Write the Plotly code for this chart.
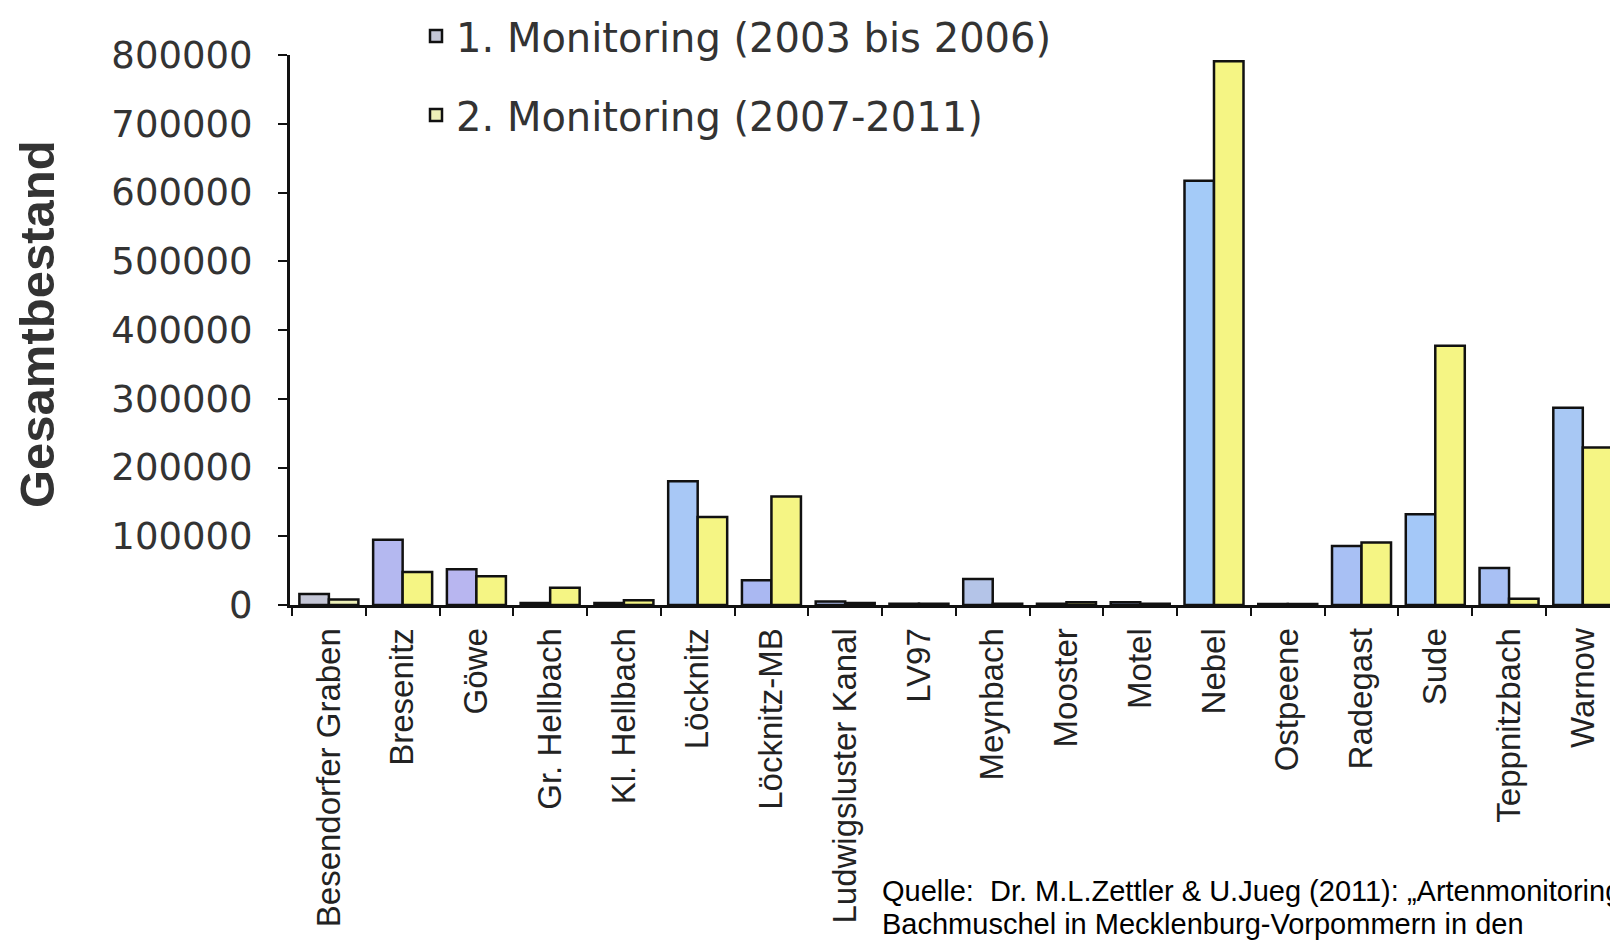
import plotly.graph_objects as go

categories = ["Besendorfer Graben", "Bresenitz", "Göwe", "Gr. Hellbach", "Kl. Hellbach",
              "Löcknitz", "Löcknitz-MB", "Ludwigsluster Kanal", "LV97", "Meynbach",
              "Mooster", "Motel", "Nebel", "Ostpeene", "Radegast", "Sude",
              "Teppnitzbach", "Warnow"]
monitoring1 = [16000, 95000, 52000, 3000, 3000, 180000, 36000, 5000, 2000, 38000,
               2000, 4000, 617000, 1500, 86000, 132000, 54000, 287000]
monitoring2 = [8000, 48000, 42000, 25000, 7000, 128000, 158000, 3000, 2000, 2000,
               4000, 2000, 791000, 1500, 91000, 377000, 9000, 229000]
series_names = ["1. Monitoring (2003 bis 2006)", "2. Monitoring (2007-2011)"]
y_ticks = [0, 100000, 200000, 300000, 400000, 500000, 600000, 700000, 800000]

# styles
colors1 = ["#c4c6d6", "#b4b8f0", "#b8b6f0", "#b0b8ee", "#b0b8ee", "#a8c8f6", "#aab8f2",
           "#b0c0f0", "#b0c0f0", "#b4c4e8", "#b0c0f0", "#b0c0f0", "#a4cbf8", "#b0c0f0",
           "#a8c0f4", "#a4c8f8", "#a8c0f4", "#a8c8f4"]
colors2 = ["#eef0b8"] + ["#f5f584"] * 17

fig = go.Figure()
fig.add_trace(go.Bar(x=categories, y=monitoring1, name=series_names[0],
                     marker=dict(color=colors1, line=dict(color="#111111", width=2.5)),
                     legend="legend"))
fig.add_trace(go.Bar(x=categories, y=monitoring2, name=series_names[1],
                     marker=dict(color=colors2, line=dict(color="#111111", width=2.5)),
                     legend="legend2"))

W, H = 1610, 944
L, R, T, B = 290, 0, 55, 339
pw = W - L - R
ph = H - T - B
cat_w = 73.76          # px per category in the reference
first_boundary = 292   # px of first category boundary

def px_x(p):
    return (p - L) / pw

def px_y(p):
    return (H - B - p) / ph

x_lo = -0.5 - (first_boundary - L) / cat_w
x_hi = -0.5 + (W - R - first_boundary) / cat_w

legend_font = dict(family="DejaVu Sans", size=40, color="#333333")

fig.update_layout(
    width=W, height=H,
    margin=dict(l=L, r=R, t=T, b=B, pad=0, autoexpand=False),
    paper_bgcolor="white", plot_bgcolor="white",
    barmode="group", bargap=0.2, bargroupgap=0,
    showlegend=True,
    legend=dict(xref="container", yref="container", x=416 / W, y=1 - 36 / H,
                xanchor="left", yanchor="middle",
                font=legend_font, bgcolor="rgba(0,0,0,0)", borderwidth=0),
    legend2=dict(xref="container", yref="container", x=416 / W, y=1 - 115 / H,
                 xanchor="left", yanchor="middle",
                 font=legend_font, bgcolor="rgba(0,0,0,0)", borderwidth=0),
    xaxis=dict(
        type="category", range=[x_lo, x_hi], automargin=False,
        showline=True, linecolor="#111111", linewidth=3,
        ticks="outside", ticklen=8, tickwidth=2, tickcolor="#111111",
        tickson="boundaries", tickangle=-90, ticklabelstandoff=7,
        tickfont=dict(family="Liberation Sans", size=33, color="#222222"),
        showgrid=False, zeroline=False,
    ),
    yaxis=dict(
        range=[0, 800000], tickvals=y_ticks, ticktext=[str(v) for v in y_ticks],
        automargin=False,
        showline=True, linecolor="#111111", linewidth=3,
        ticks="outside", ticklen=9, tickwidth=2, tickcolor="#111111",
        ticklabelstandoff=18,
        tickfont=dict(family="DejaVu Sans", size=37, color="#333333"),
        showgrid=False, zeroline=False,
    ),
    annotations=[
        dict(text="<b>Gesamtbestand</b>", textangle=-90, xref="paper", yref="paper",
             x=px_x(37), y=px_y(324), xanchor="center", yanchor="middle", showarrow=False,
             font=dict(family="Liberation Sans", size=49, color="#333333")),
        dict(text="Quelle:&nbsp; Dr. M.L.Zettler &amp; U.Jueg (2011): „Artenmonitoring der",
             xref="paper", yref="paper", x=px_x(880), y=px_y(891),
             xanchor="left", yanchor="middle", showarrow=False,
             font=dict(family="Liberation Sans", size=29, color="#000000")),
        dict(text="Bachmuschel in Mecklenburg-Vorpommern in den",
             xref="paper", yref="paper", x=px_x(880), y=px_y(924),
             xanchor="left", yanchor="middle", showarrow=False,
             font=dict(family="Liberation Sans", size=29, color="#000000")),
    ],
)

fig.write_html("out.html", config={"displayModeBar": False},
               post_script="document.body.style.margin='0px';document.body.style.overflow='hidden';")
